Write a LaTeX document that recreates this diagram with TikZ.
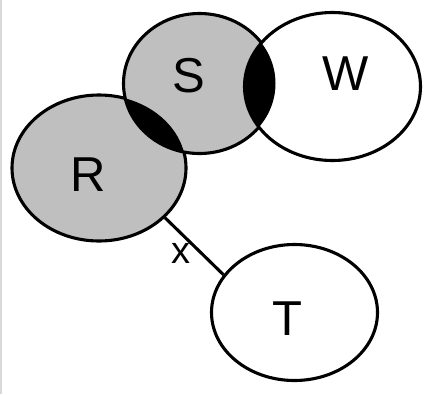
\documentclass[tikz,border=0pt]{standalone}
\usepackage{fontspec}
\setmainfont{Liberation Sans}
\usetikzlibrary{shapes.geometric}

\begin{document}
\begin{tikzpicture}[x=1pt, y=-1pt,
        venn/.style={ellipse, draw, fill=white, line width=3.1pt, inner sep=0pt},
        given/.style={venn, fill=lightgray},
        letter/.style={font=\fontsize{49}{56}\selectfont}]
        \useasboundingbox (0,0) rectangle (431,394);
        \draw[gray!30, line width=1.5pt] (1,0) -- (1,394);

        \node[given, minimum width=174pt, minimum height=146pt,
              label={[letter, xshift=-11pt, yshift=-7pt]center:R}] at (99,168) (R) {};
        \node[given, minimum width=152pt, minimum height=140pt,
              label={[letter, xshift=-10.5pt, yshift=8pt]center:S}] at (199.5,83.5) (S) {};
        \node[venn, minimum width=176pt, minimum height=148pt,
              label={[letter, xshift=13.5pt, yshift=13pt]center:W}] at (332.5,86.5) (W) {};
        \node[venn, minimum width=166pt, minimum height=136pt,
              label={[letter, xshift=-7.5pt, yshift=-6pt]center:T}] at (294.5,312.5) (T) {};

        % shared parts
        \begin{scope}
             \clip (S.center) ellipse [x radius=76, y radius=70];
             \fill (R.center) ellipse [x radius=87, y radius=73];
             \fill (W.center) ellipse [x radius=88, y radius=74];
        \end{scope}

        \draw [line width=3.1pt] (R.-37) -- node[pos=.45, xshift=-10pt, yshift=-10pt, font=\fontsize{38}{44}\selectfont] {x} (T.152);
    \end{tikzpicture}
\end{document}
